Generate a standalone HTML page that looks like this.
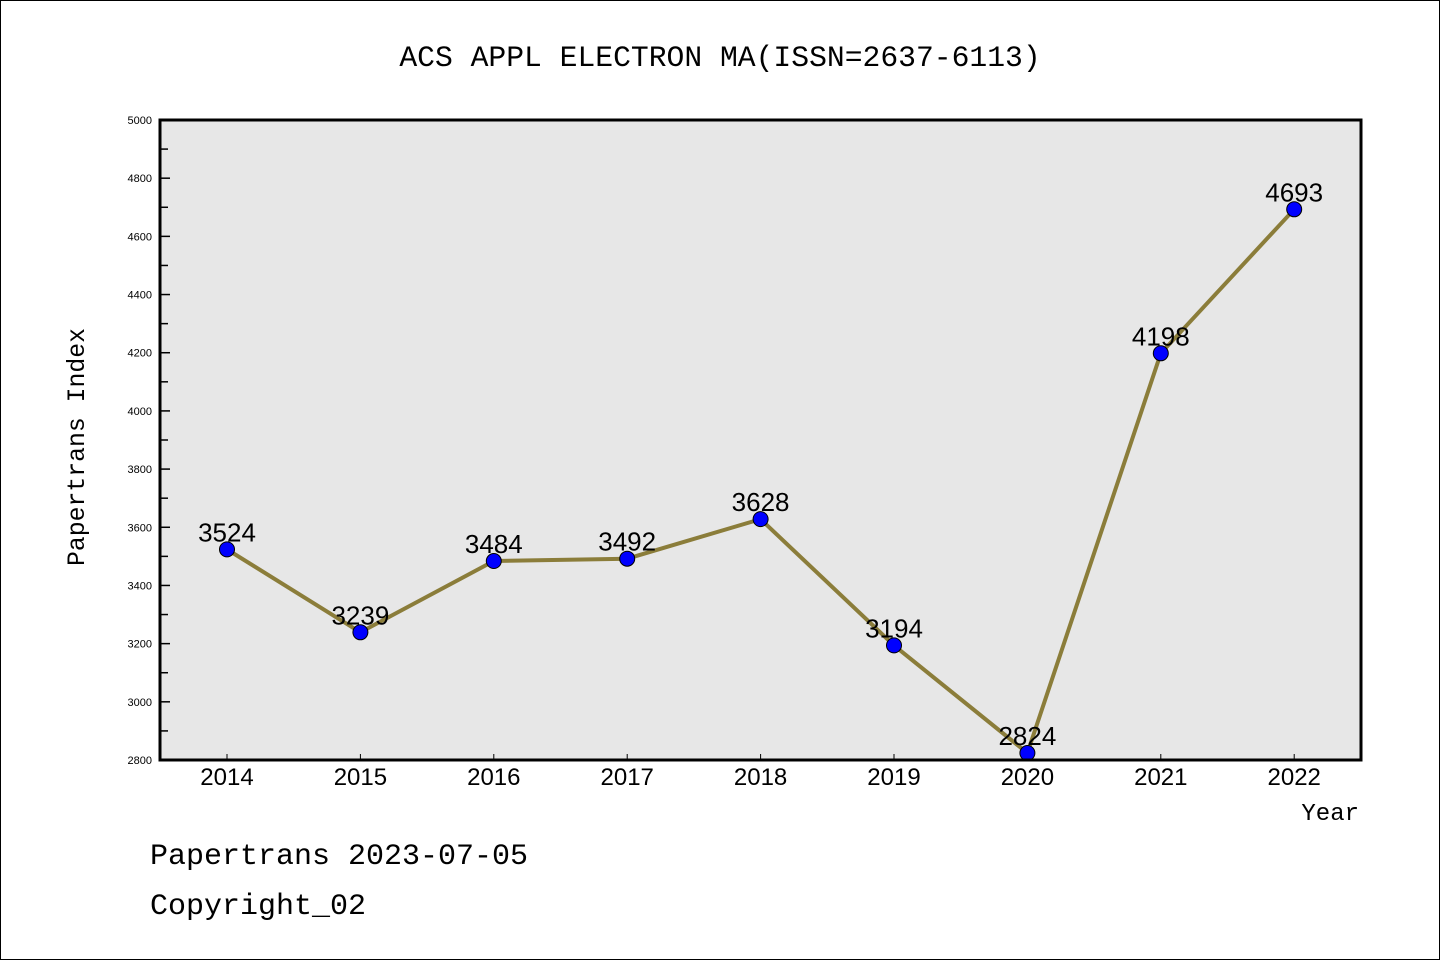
<!DOCTYPE html>
<html><head><meta charset="utf-8"><style>
html,body{margin:0;padding:0;background:#fff;}
svg{display:block;}
.mono{font-family:"Liberation Mono","Noto Sans CJK SC",monospace;}
.sans{font-family:"Liberation Sans","DejaVu Sans",sans-serif;}
</style></head><body>
<svg id="chart" width="1440" height="960" xmlns="http://www.w3.org/2000/svg">
<rect x="0.5" y="0.5" width="1439" height="959" fill="#fff" stroke="#000" stroke-width="1"/>
<text x="720" y="66" text-anchor="middle" class="mono" font-size="29.7">ACS APPL ELECTRON MA(ISSN=2637-6113)</text>
<rect x="160" y="120" width="1201" height="640" fill="#e7e7e7"/>
<g id="yaxis"></g>
<g id="xaxis"></g>
<g id="series"></g>
<rect x="160" y="120" width="1201" height="640" fill="none" stroke="#000" stroke-width="3"/>
<text transform="translate(84,447) rotate(-90)" text-anchor="middle" class="mono" font-size="24.8">Papertrans Index</text>
<text x="1359" y="820" text-anchor="end" class="mono" font-size="24">Year</text>
<text x="150" y="864" class="mono" font-size="30">Papertrans 2023-07-05</text>
<text x="150" y="914" class="mono" font-size="30">Copyright_02</text>
</svg>
<script>
const categories = ["2014","2015","2016","2017","2018","2019","2020","2021","2022"];
const values = [3524,3239,3484,3492,3628,3194,2824,4198,4693];
const yTicks = [2800,3000,3200,3400,3600,3800,4000,4200,4400,4600,4800,5000];
const NS="http://www.w3.org/2000/svg";
const X0=227, DX=133.4, PTOP=120, PBOT=760, YMIN=2800, YMAX=5000;
function xs(i){return X0+i*DX;}
function ys(v){return PBOT-(v-YMIN)/(YMAX-YMIN)*(PBOT-PTOP);}
function mk(t,a,p){const e=document.createElementNS(NS,t);for(const k in a)e.setAttribute(k,a[k]);p.appendChild(e);return e;}
const ya=document.getElementById('yaxis'), xa=document.getElementById('xaxis'), sg=document.getElementById('series');
yTicks.forEach((v,i)=>{
  const t=mk('line',{x1:160,x2:170,y1:ys(v),y2:ys(v),stroke:'#000','stroke-width':1.5},ya);
  
  
  const l=mk('text',{x:152,y:ys(v)+4,'text-anchor':'end','font-size':11,class:'sans'},ya);
  l.textContent=v;
  
  
  if(i<yTicks.length-1){
    const m=mk('line',{x1:160,x2:168,y1:ys(v+100),y2:ys(v+100),stroke:'#000','stroke-width':1.5},ya);
    
    
  }
});
categories.forEach((c,i)=>{
  const t=mk('line',{x1:xs(i),x2:xs(i),y1:PBOT,y2:PBOT-6,stroke:'#000','stroke-width':1},xa);
  
  
  const l=mk('text',{x:xs(i),y:785,'text-anchor':'middle','font-size':24,class:'sans'},xa);
  l.textContent=c;
  
  
});
const pts=values.map((v,i)=>xs(i)+','+ys(v)).join(' ');
const pl=mk('polyline',{points:pts,fill:'none',stroke:'#8b7d3a','stroke-width':4,'stroke-linejoin':'round'},sg);


values.forEach((v,i)=>{
  const c=mk('circle',{cx:xs(i),cy:ys(v),r:7.5,fill:'#0000ff',stroke:'#000','stroke-width':1},sg);
  
  
  const l=mk('text',{x:xs(i),y:ys(v)-8,'text-anchor':'middle','font-size':26,class:'sans'},sg);
  l.textContent=v;
  
  
});
</script>
</body></html>
